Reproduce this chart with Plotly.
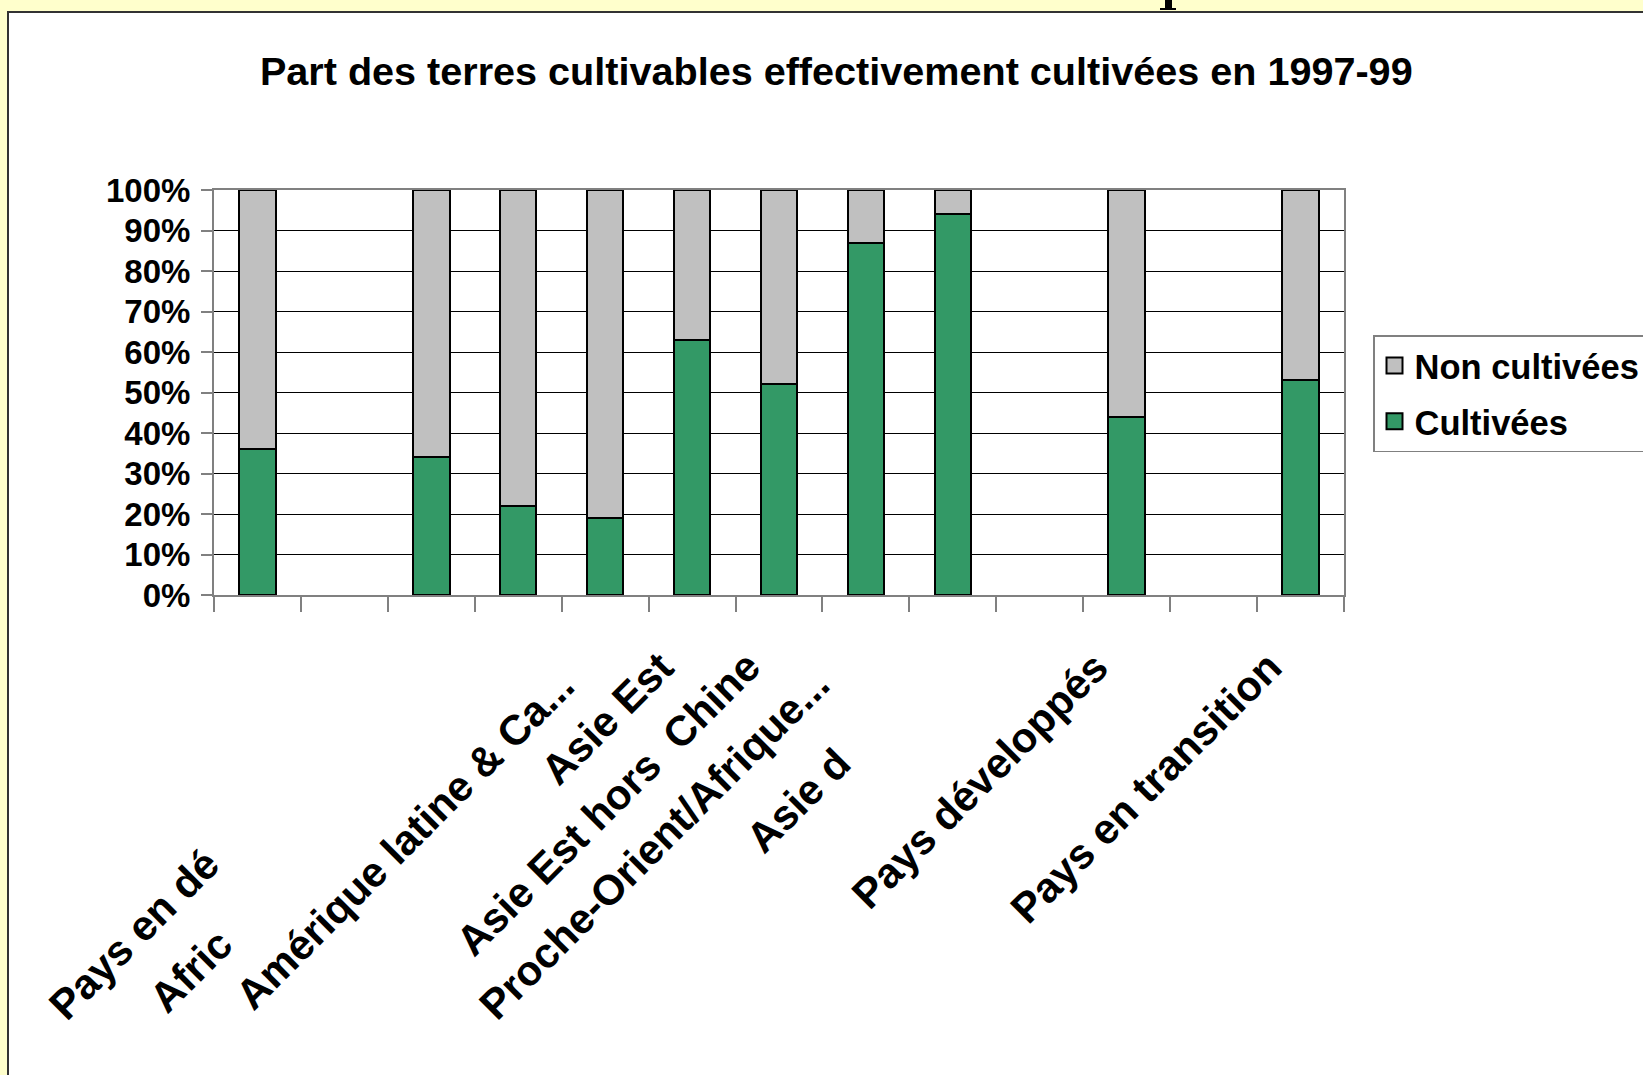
import plotly.graph_objects as go

# categories in chart order (blank spacers between groups)
categories = ["Monde", " ", "Pays en développement", "Afrique subsaharienne",
              "Amérique latine & Caraïbes", "Asie Est", "Asie Est hors Chine",
              "Proche-Orient/Afrique du Nord", "Asie du Sud", "  ",
              "Pays développés", "   ", "Pays en transition"]
cultivees = [36, None, 34, 22, 19, 63, 52, 87, 94, None, 44, None, 53]
non_cultivees = [64, None, 66, 78, 81, 37, 48, 13, 6, None, 56, None, 47]

# what can actually be read under each bar (Excel truncated / hid the rest)
label_text = ["", "", "Pays en dé", "Afric", "Amérique latine & Ca...", "Asie Est",
              "Asie Est hors\u00a0 Chine", "Proche-Orient/Afrique...", "Asie d", "",
              "Pays développés", "", "Pays en transition"]

GREEN = "#339966"
GREY = "#C0C0C0"
YELLOW = "#FFFFCC"
FONT = "Liberation Sans"

# plot area in page pixels
W, H = 1643, 1075
L, R, T, B = 214, 1344, 190, 595


def px_x(p):
    return (p - L) / (R - L)


def px_y(p):
    return (B - p) / (B - T)


fig = go.Figure()
fig.add_trace(go.Bar(x=categories, y=cultivees, name="Cultivées",
                     marker=dict(color=GREEN, line=dict(color="black", width=2)),
                     showlegend=False))
fig.add_trace(go.Bar(x=categories, y=non_cultivees, name="Non cultivées",
                     marker=dict(color=GREY, line=dict(color="black", width=2)),
                     showlegend=False))

# legend swatches (bar swatches are too small)
for name, col in [("Non cultivées", GREY), ("Cultivées", GREEN)]:
    fig.add_trace(go.Scatter(x=[None], y=[None], mode="markers", name=name,
                             legendgroup=name,
                             marker=dict(symbol="square", size=16, color=col,
                                         line=dict(color="black", width=2))))

# category labels, rotated like the Excel axis
annotations = []
n = len(categories)
# clipped labels: only their beginning shows, so they are placed by their start
starts = {2: (37, 1031), 3: (138, 1024), 8: (734, 864)}
# labels ending in "..." sit a bit further back along the text direction
ends = {4: (-20, 659), 7: (-25, 657)}
for i, txt in enumerate(label_text):
    if not txt:
        continue
    center = L + (R - L) / n * (i + 0.5)
    font = dict(family=FONT, size=42, color="black", weight="bold")
    if i in starts:
        sx, sy = starts[i]
        annotations.append(dict(x=categories[i], xref="x", y=px_y(sy), yref="paper",
                                xanchor="left", yanchor="bottom", xshift=sx - center,
                                text=txt, textangle=-45, showarrow=False, font=font))
    else:
        dx, ty = ends.get(i, (-7, 640))
        annotations.append(dict(x=categories[i], xref="x", y=px_y(ty), yref="paper",
                                xanchor="right", yanchor="top", xshift=dx,
                                text=txt, textangle=-45, showarrow=False, font=font))

fig.update_layout(
    width=W, height=H, autosize=False,
    margin=dict(l=L, r=W - R, t=T, b=H - B, pad=0, autoexpand=False),
    paper_bgcolor=YELLOW,
    plot_bgcolor="white",
    barmode="stack",
    bargap=0.58,
    title=dict(text="Part des terres cultivables effectivement cultivées en 1997-99",
               x=0.509, xref="container", xanchor="center",
               y=1 - 71 / H, yref="container", yanchor="middle",
               font=dict(family=FONT, size=39.6, color="black", weight="bold")),
    legend=dict(x=1373 / W, y=1 - 335 / H, xref="container", yref="container",
                xanchor="left", yanchor="top",
                bgcolor="white", bordercolor="#808080", borderwidth=1.5,
                traceorder="grouped", tracegroupgap=8,
                font=dict(family=FONT, size=34.5, color="black", weight="bold")),
    shapes=[
        dict(type="rect", xref="paper", yref="paper", layer="below",
             x0=px_x(8), x1=px_x(1700), y0=px_y(1100), y1=px_y(12),
             fillcolor="white", line=dict(color="#333333", width=2)),
        # foot of a letter from the slide heading cut off above the page
        dict(type="path", xref="paper", yref="paper", layer="above",
             path="M {a},{t} L {b},{t} L {b},{m} L {c},{m} L {c},{bt} L {d},{bt} L {d},{m} L {a},{m} Z".format(
                 a=px_x(1165), b=px_x(1172), c=px_x(1176), d=px_x(1160),
                 t=px_y(0), m=px_y(8), bt=px_y(10)),
             fillcolor="black", line=dict(width=0)),
    ],
    annotations=annotations,
)

fig.update_xaxes(type="category", categoryorder="array", categoryarray=categories,
                 range=[-0.5, n - 0.5], autorange=False,
                 showticklabels=False, tickson="boundaries", ticks="outside",
                 ticklen=15, tickwidth=1.5, tickcolor="#808080",
                 showline=True, linecolor="#808080", linewidth=2, mirror=True,
                 showgrid=False, zeroline=False)
fig.update_yaxes(range=[0, 100], autorange=False, dtick=10, ticksuffix="%",
                 ticks="outside", ticklen=11, tickwidth=1.5, tickcolor="#808080",
                 showline=True, linecolor="#808080", linewidth=2, mirror=True,
                 showgrid=True, gridcolor="black", gridwidth=1, zeroline=False,
                 tickfont=dict(family=FONT, size=33, color="black", weight="bold"),
                 ticklabelstandoff=4)

# the page's default body margin would shift the figure by 8px
fig.write_html("out.html", config={"displayModeBar": False},
               post_script="document.body.style.margin='0';"
                           "document.body.style.background='%s';" % YELLOW)
